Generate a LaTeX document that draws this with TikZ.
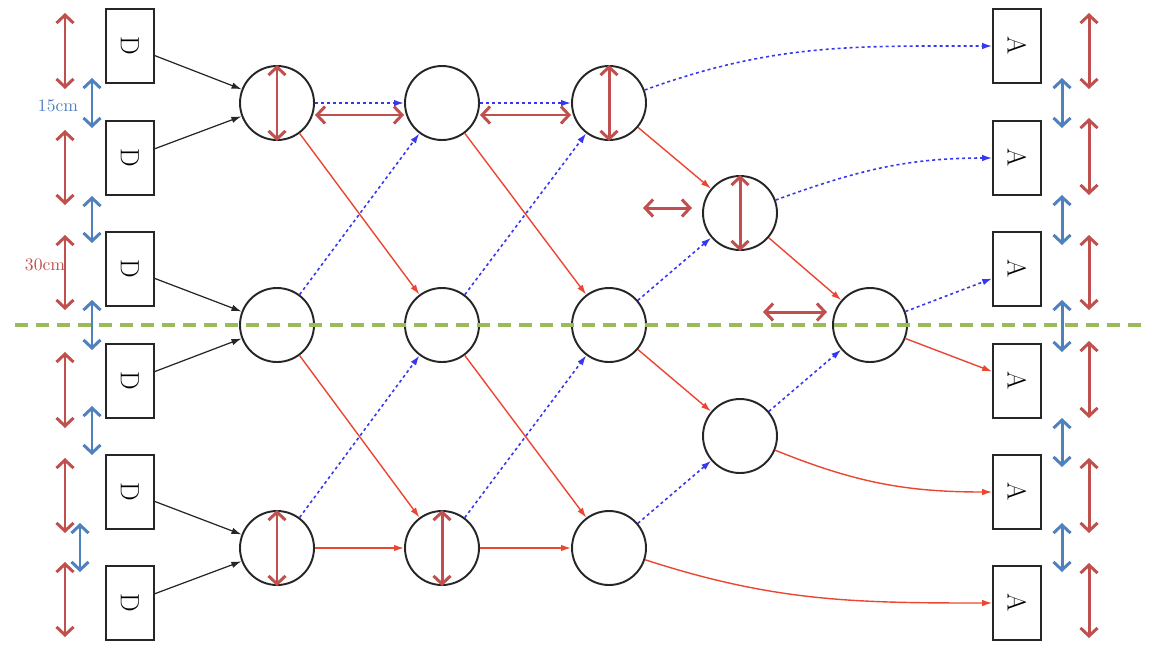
\documentclass[tikz,border=0pt]{standalone}
\usepackage{tikz}
\usetikzlibrary{arrows.meta,positioning}
\definecolor{spanred}{RGB}{192,80,77}
\definecolor{gapblue}{RGB}{79,129,189}
\definecolor{cutgreen}{RGB}{155,187,89}
\definecolor{hopred}{RGB}{235,70,50}
\definecolor{linkblue}{RGB}{55,55,240}
\tikzset{dbox/.style={
    % The shape:
    rectangle,
    % The size:
    minimum width=9.6mm,
    minimum height=14.8mm,
    inner sep=0pt,
    % The border:
    line width=0.9pt,
    draw=black!85,
    % Font
    font=\fontsize{15}{18}\selectfont
    },
    abox/.style={dbox},
    relay/.style={
    circle,
    minimum size=14.8mm,
    inner sep=0pt,
    line width=1.1pt,
    draw=black!85,
    },
    feed/.style={-{Latex[length=2mm,width=1.3mm]},line width=0.7pt,draw=black!85},
    hop/.style={-{Latex[length=2mm,width=1.3mm]},line width=0.8pt,draw=hopred},
    link/.style={-{Latex[length=2mm,width=1.3mm]},line width=0.9pt,draw=linkblue,
    dash pattern=on 0.6mm off 0.6mm},
    span/.style={{Straight Barb[length=1.6mm,width=3.4mm]}-{Straight Barb[length=1.6mm,width=3.4mm]},
    line width=1.7pt,draw=spanred},
    gap/.style={span,draw=gapblue},
    cut/.style={line width=2.2pt,draw=cutgreen,dash pattern=on 2.6mm off 1.6mm},
}

\begin{document}
\begin{tikzpicture}[x=0.2mm,y=-0.2mm]
    \useasboundingbox (0,0) rectangle (1152,650);

    % D column
    \node (d1) [dbox] at (130,46)  {\rotatebox{-90}{D}};
    \node (d2) [dbox] at (130,158) {\rotatebox{-90}{D}};
    \node (d3) [dbox] at (130,269) {\rotatebox{-90}{D}};
    \node (d4) [dbox] at (130,381) {\rotatebox{-90}{D}};
    \node (d5) [dbox] at (130,492) {\rotatebox{-90}{D}};
    \node (d6) [dbox] at (130,603) {\rotatebox{-90}{D}};

    % A column
    \node (a1) [abox] at (1017,46)  {\rotatebox{-90}{A}};
    \node (a2) [abox] at (1017,158) {\rotatebox{-90}{A}};
    \node (a3) [abox] at (1017,269) {\rotatebox{-90}{A}};
    \node (a4) [abox] at (1017,381) {\rotatebox{-90}{A}};
    \node (a5) [abox] at (1017,492) {\rotatebox{-90}{A}};
    \node (a6) [abox] at (1017,603) {\rotatebox{-90}{A}};

    % relays
    \node (c11) [relay] at (277,103) {};
    \node (c12) [relay] at (277,325) {};
    \node (c13) [relay] at (277,548) {};
    \node (c21) [relay] at (442,103) {};
    \node (c22) [relay] at (442,325) {};
    \node (c23) [relay] at (442,548) {};
    \node (c31) [relay] at (609,103) {};
    \node (c32) [relay] at (609,325) {};
    \node (c33) [relay] at (609,548) {};
    \node (c41) [relay] at (740,213) {};
    \node (c42) [relay] at (740,436) {};
    \node (c5)  [relay] at (870,325) {};

    \draw[feed] (d1) -- (c11);
    \draw[feed] (d2) -- (c11);
    \draw[feed] (d3) -- (c12);
    \draw[feed] (d4) -- (c12);
    \draw[feed] (d5) -- (c13);
    \draw[feed] (d6) -- (c13);

    \draw[link] (c11) -- (c21);
    \draw[link] (c21) -- (c31);
    \draw[link] (c12) -- (c21);
    \draw[link] (c22) -- (c31);
    \draw[link] (c13) -- (c22);
    \draw[link] (c23) -- (c32);
    \draw[link] (c32) -- (c41);
    \draw[link] (c33) -- (c42);
    \draw[link] (c42) -- (c5);
    \draw[link] (c5) -- (a3);
    \draw[link] (c31) to[out=20,in=180] (a1);
    \draw[link] (c41) to[out=20,in=180] (a2);

    \draw[hop] (c11) -- (c22);
    \draw[hop] (c12) -- (c23);
    \draw[hop] (c21) -- (c32);
    \draw[hop] (c22) -- (c33);
    \draw[hop] (c13) -- (c23);
    \draw[hop] (c23) -- (c33);
    \draw[hop] (c31) -- (c41);
    \draw[hop] (c32) -- (c42);
    \draw[hop] (c41) -- (c5);
    \draw[hop] (c5) -- (a4);
    \draw[hop] (c42) to[out=-22,in=180] (a5);
    \draw[hop] (c33) to[out=-18,in=180] (a6);

    % spans inside and between relays
    \draw[span] (c11.north) -- (c11.south);
    \draw[span] (c13.north) -- (c13.south);
    \draw[span] (c23.north) -- (c23.south);
    \draw[span] (c31.north) -- (c31.south);
    \draw[span] (c41.north) -- (c41.south);
    \draw[span] ([yshift=-2.4mm]c11.east) -- ([yshift=-2.4mm]c21.west);
    \draw[span] ([yshift=-2.4mm]c21.east) -- ([yshift=-2.4mm]c31.west);
    \draw[span] (643,208) -- (692,208);
    \draw[span] (763,312) -- (827,312);

    \draw[cut] (15,325) -- (1145,325);

    % left side spacing
    \draw[span] (65,13) -- (65,89);
    \draw[span] (65,130) -- (65,205);
    \draw[span] (65,235) -- (65,310);
    \draw[span] (65,352) -- (65,428);
    \draw[span] (65,458) -- (65,533);
    \draw[span] (65,562) -- (65,637);
    \draw[gap] (92,78) -- (92,128);
    \draw[gap] (92,196) -- (92,243);
    \draw[gap] (92,300) -- (92,350);
    \draw[gap] (92,406) -- (92,455);
    \draw[gap] (80,523) -- (80,572);
    \node (lbl15) [text=gapblue,font=\fontsize{10}{12}\selectfont] at (58,106) {15cm};
    \node (lbl30) [text=spanred,font=\fontsize{10}{12}\selectfont] at (45,265) {30cm};

    % right side spacing
    \draw[span] (1089,13) -- (1089,89);
    \draw[span] (1089,118) -- (1089,195);
    \draw[span] (1089,235) -- (1089,310);
    \draw[span] (1089,341) -- (1089,418);
    \draw[span] (1089,458) -- (1089,533);
    \draw[span] (1089,563) -- (1089,638);
    \draw[gap] (1062,78) -- (1062,128);
    \draw[gap] (1062,195) -- (1062,245);
    \draw[gap] (1062,300) -- (1062,352);
    \draw[gap] (1062,418) -- (1062,467);
    \draw[gap] (1062,523) -- (1062,572);
\end{tikzpicture}
\end{document}
